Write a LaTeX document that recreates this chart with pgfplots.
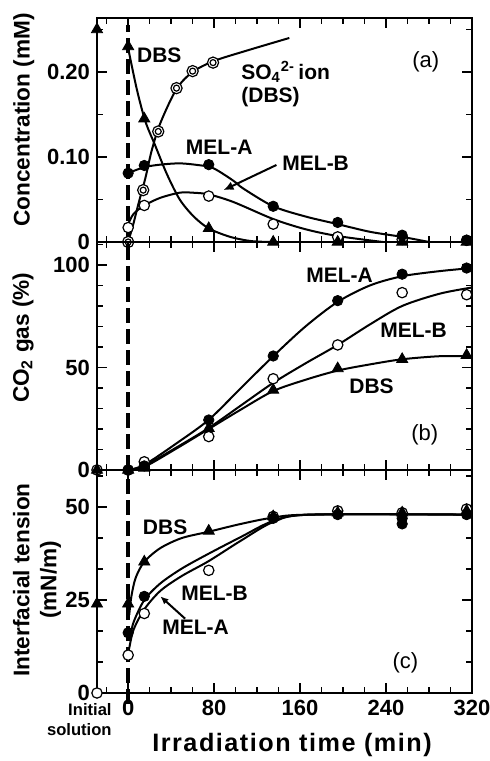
\documentclass[border=0pt]{standalone}
\usepackage{fontspec}
\setmainfont{Liberation Sans}
\newfontfamily\spaced{Liberation Sans}[LetterSpace=6.0]
\usepackage{pgfplots}
\pgfplotsset{compat=1.18}
\usetikzlibrary{arrows.meta}

\pgfplotsset{
  panel/.style={
    scale only axis, width=187.5pt, anchor=south west,
    xmin=-29, xmax=320, clip=false,
    xtick={0,80,...,320}, minor xtick={-20,0,...,320},
    axis line style={line width=1pt},
    major tick length=5pt, minor tick length=3pt,
    every tick/.style={line width=0.8pt, black},
    tick label style={font=\fontsize{11}{13}\selectfont\bfseries},
    /pgf/number format/assume math mode=true,
    ylabel style={font=\fontsize{11.3}{13.5}\selectfont\bfseries, anchor=center},
  },
  curve/.style={smooth, no marks, line width=1pt, black},
  tri/.style={only marks, mark=triangle*, mark size=3.2pt, black},
  fc/.style={only marks, mark=*, mark size=2.6pt, black},
  oc/.style={only marks, mark=*, mark size=2.6pt, black, mark options={fill=white, draw=black, line width=0.6pt}},
  vdash/.style={line width=2pt, dash pattern=on 7.5pt off 3pt, black},
}
\tikzset{
  lab/.style={font=\fontsize{10.5}{11.5}\selectfont\bfseries},
  plab/.style={font=\fontsize{11}{13}\selectfont},
}

\begin{document}
\begin{tikzpicture}
\path[use as bounding box] (0,0) rectangle (245pt,380.5pt);

% (a) concentration
\begin{axis}[panel, at={(48.5pt,259.5pt)}, height=112pt,
  ymin=0, ymax=0.2635, ytick={0,0.1,0.2}, yticklabels={0,0.10,0.20},
  minor ytick={0.05,0.15,0.25}, xticklabels={},
  ylabel={Concentration (mM)},
  ylabel style={at={(axis description cs:-0.195,0.545)}}]
\addplot[curve] coordinates {(0,0.228) (8,0.18) (16,0.142) (25,0.114) (36,0.08) (48,0.05) (61,0.03) (75,0.016) (95,0.006) (115,0.001) (135,0)};
\addplot[curve] coordinates {(0,0) (5,0.022) (10,0.047) (16,0.075) (22,0.108) (30,0.14) (45,0.18) (60,0.2) (80,0.213) (110,0.225) (150,0.24)};
\addplot[curve] coordinates {(0,0.081) (15,0.088) (30,0.091) (48,0.0925) (65,0.0905) (79,0.087) (98,0.072) (107,0.063) (135,0.042) (165,0.03) (195,0.021) (225,0.012) (255,0.006) (280,0)};
\addplot[curve] coordinates {(0,0.021) (5,0.033) (15,0.043) (30,0.052) (48,0.058) (60,0.058) (75,0.056) (98,0.047) (135,0.027) (165,0.015) (195,0.007) (237,0)};
\addplot[vdash] coordinates {(0,0) (0,0.255)};
\addplot[oc] coordinates {(0,0.017) (15,0.043) (75,0.054) (135,0.021) (195,0.006) (255,0.003) (315,0.002)};
\addplot[oc, mark size=2.8pt] coordinates {(0,0) (14,0.061) (28,0.13) (45,0.181) (60,0.201) (79,0.211)};
\addplot[oc, mark size=1.5pt] coordinates {(0,0) (14,0.061) (28,0.13) (45,0.181) (60,0.201) (79,0.211)};
\addplot[fc] coordinates {(0,0.081) (15,0.09) (75,0.091) (135,0.042) (195,0.023) (255,0.008) (315,0.002)};
\addplot[tri] coordinates {(-29,0.25) (0,0.23) (15,0.145) (75,0.016) (135,0) (195,0) (255,0) (315,0)};
\node[lab, anchor=west, inner sep=0pt] at (axis cs:8,0.22) {DBS};
\node[lab, anchor=west, align=left, inner sep=0pt] at (axis cs:105,0.186) {SO\textsubscript{4}\textsuperscript{2-}\,ion\\(DBS)};
\node[lab] at (axis cs:84.7,0.112) {MEL-A};
\node[lab] at (axis cs:174.5,0.093) {MEL-B};
\node[plab] at (axis cs:277,0.212) {(a)};
\draw[line width=1pt, -{Latex[length=5pt,width=4.5pt]}] (axis cs:138,0.0906) -- (axis cs:88.7,0.061);
\end{axis}

% (b) CO2 gas
\begin{axis}[panel, at={(48.5pt,145.5pt)}, height=114pt,
  ymin=0, ymax=111.2, ytick={0,50,100}, minor ytick={10,20,...,110},
  xticklabels={},
  ylabel={CO\textsubscript{2} gas (\%)},
  ylabel style={at={(axis description cs:-0.197,0.58)}}]
\addplot[curve] coordinates {(0,0) (15,2.5) (45,13) (75,24.5) (105,40) (135,55.5) (165,70) (195,82) (225,90) (255,94.5) (290,97) (320,98.5)};
\addplot[curve] coordinates {(0,0) (15,2) (45,11) (75,20.5) (105,31.5) (135,42.5) (165,52) (195,61) (225,71) (255,80) (290,86) (320,89)};
\addplot[curve] coordinates {(0,0) (15,1.5) (45,10.5) (75,20) (105,29.5) (135,38.5) (165,44) (195,48.5) (225,51.5) (255,54) (290,55.5) (320,55.5)};
\addplot[vdash] coordinates {(0,0) (0,111.2)};
\addplot[oc] coordinates {(-29,0) (0,0) (15,4) (75,16.3) (135,44.5) (195,61) (255,86.5) (315,85.5)};
\addplot[fc] coordinates {(0,0) (15,2) (75,24.4) (135,55.6) (195,82.6) (255,95.5) (315,98.5)};
\addplot[tri] coordinates {(-29,0) (0,0) (15,1) (75,20.3) (135,39) (195,49.5) (255,54) (315,56)};
\node[lab] at (axis cs:196.7,95.1) {MEL-A};
\node[lab] at (axis cs:265.6,68.3) {MEL-B};
\node[lab] at (axis cs:226.5,40.6) {DBS};
\node[plab] at (axis cs:276,17) {(b)};
\end{axis}

% (c) interfacial tension
\begin{axis}[panel, at={(48.5pt,34pt)}, height=111.5pt,
  ymin=0, ymax=60, ytick={0,25,50}, minor ytick={8.333,16.667,33.333,41.667,58.333},
  ylabel={Interfacial tension\\(mN/m)},
  ylabel style={at={(axis description cs:-0.16,0.507)}, align=center},
  xlabel={{\spaced Irradiation time (min)}},
  xlabel style={at={(axis description cs:0.52,-0.233)}, anchor=center, font=\fontsize{12.6}{14}\selectfont\bfseries}]
\addplot[curve] coordinates {(1,21) (3,26) (7,31) (15,35.3) (30,39) (50,41.7) (75,43.4) (105,45.5) (135,47.2) (170,48) (320,48)};
\addplot[curve] coordinates {(1,14) (5,19) (15,25) (30,29.5) (50,33.5) (75,37.5) (105,42) (135,46.3) (170,48) (320,48)};
\addplot[curve] coordinates {(1,12) (5,17) (15,22.5) (30,27.5) (50,31.5) (75,35.5) (105,41) (135,46) (170,48) (320,48)};
\addplot[vdash] coordinates {(0,-3) (0,60)};
\addplot[oc] coordinates {(-29,0) (0,10.2) (15,21.4) (75,33) (135,47.5) (195,49) (255,48.5) (315,49.5)};
\addplot[fc] coordinates {(0,16.2) (15,26) (135,47) (195,48) (255,47) (255,45.5) (315,48)};
\addplot[tri] coordinates {(-29,24) (0,24) (15,35.3) (75,43.6) (135,47.5) (195,48.5) (255,48.5) (315,49)};
\node[lab] at (axis cs:34.4,44.7) {DBS};
\node[lab] at (axis cs:80.5,26.9) {MEL-B};
\node[lab] at (axis cs:62.8,17.8) {MEL-A};
\node[plab] at (axis cs:258,8) {(c)};
\draw[line width=1pt, -{Latex[length=4pt,width=3.5pt]}] (axis cs:53,20) -- (axis cs:30,26);
\node[anchor=north east, align=right, inner sep=0pt, font=\fontsize{8.3}{10}\selectfont\bfseries] at (rel axis cs:0.04,-0.045) {Initial\\solution};
\end{axis}
\end{tikzpicture}
\end{document}
